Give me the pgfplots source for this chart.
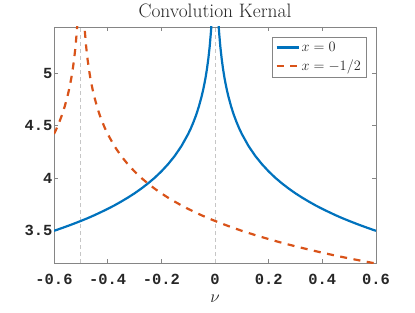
\documentclass[border=0pt]{standalone}
\usepackage{fontspec}
\usepackage{pgfplots}
\pgfplotsset{compat=1.18}
\newfontfamily\tickfont{Liberation Mono}
\definecolor{mblue}{rgb}{0,0.447,0.741}
\definecolor{morange}{rgb}{0.85,0.325,0.098}
\definecolor{axgray}{rgb}{0.52,0.52,0.52}
\definecolor{txt}{rgb}{0.15,0.15,0.15}
\begin{document}
\begin{tikzpicture}
\begin{axis}[name=ax, scale only axis, width=322bp, height=236bp,
 xmin=-0.6, xmax=0.6, ymin=3.19, ymax=5.44,
 xtick={-0.6,-0.4,-0.2,0,0.2,0.4,0.6},
 xticklabels={-0.6,-0.4,-0.2,0,0.2,0.4,0.6},
 ytick={3.5,4,4.5,5}, yticklabels={3.5,4,4.5,5},
 tick align=inside, xtick pos=both, ytick pos=both,
 major tick length=4bp,
 axis line style={axgray, line width=0.6bp},
 tick style={axgray, line width=0.6bp},
 ticklabel style={font=\tickfont\bfseries\fontsize{15.5}{16}\selectfont, text=txt},
 xticklabel style={yshift=-10bp, inner sep=1bp},
 yticklabel style={xshift=2bp},
 title={Convolution Kernal}, title style={font=\fontsize{19.5}{21}\selectfont, text=txt},
 xlabel={$\nu$}, xlabel style={font=\fontsize{16}{18}\selectfont, text=txt, inner sep=1bp, yshift=-8bp},
 legend style={at={(1,1)}, anchor=north east, xshift=-10bp, yshift=-10bp, draw=axgray, font=\fontsize{15}{17}\selectfont, text=txt, inner sep=3bp, row sep=3bp},
 legend cell align=left,
 legend image code/.code={\draw[#1] (0bp,0bp) -- (22bp,0bp);},
]
\addplot[gray!45, dash pattern=on 4bp off 3bp, line width=0.7bp, forget plot] coordinates {(-0.5,3.19) (-0.5,5.44)};
\addplot[gray!45, dash pattern=on 4bp off 3bp, line width=0.7bp, forget plot] coordinates {(0,3.19) (0,5.44)};
\addplot[mblue, line width=2.2bp] coordinates {
(-0.6,3.497) (-0.575,3.519) (-0.55,3.542) (-0.525,3.566) (-0.5,3.591) (-0.475,3.617) (-0.45,3.645) (-0.425,3.675)
(-0.4,3.706) (-0.375,3.739) (-0.35,3.775) (-0.325,3.813) (-0.3,3.854) (-0.275,3.899) (-0.25,3.948) (-0.225,4.002)
(-0.2,4.063) (-0.175,4.132) (-0.15,4.211) (-0.125,4.305) (-0.1,4.420) (-0.09,4.474) (-0.08,4.535) (-0.07,4.603)
(-0.06,4.683) (-0.05,4.777) (-0.045,4.831) (-0.04,4.892) (-0.035,4.960) (-0.03,5.040) (-0.025,5.134) (-0.02,5.249)
(-0.015,5.397) (-0.0125,5.491) (-0.01,5.606) (-0.0075,5.754) (-0.005,5.963) (-0.002,6.435)
(0.002,6.435) (0.005,5.963) (0.0075,5.754) (0.01,5.606) (0.0125,5.491) (0.015,5.397) (0.02,5.249) (0.025,5.134)
(0.03,5.040) (0.035,4.960) (0.04,4.892) (0.045,4.831) (0.05,4.777) (0.06,4.683) (0.07,4.603) (0.08,4.535)
(0.09,4.474) (0.1,4.420) (0.125,4.305) (0.15,4.211) (0.175,4.132) (0.2,4.063) (0.225,4.002) (0.25,3.948)
(0.275,3.899) (0.3,3.854) (0.325,3.813) (0.35,3.775) (0.375,3.739) (0.4,3.706) (0.425,3.675) (0.45,3.645)
(0.475,3.617) (0.5,3.591) (0.525,3.566) (0.55,3.542) (0.575,3.519) (0.6,3.497)
};
\addlegendentry{$x=0$}
\addplot[morange, line width=2.2bp, dash pattern=on 7bp off 6.5bp] coordinates {
(-0.6,4.420) (-0.59,4.474) (-0.58,4.535) (-0.57,4.603) (-0.56,4.683) (-0.55,4.777) (-0.545,4.831) (-0.54,4.892)
(-0.535,4.960) (-0.53,5.040) (-0.525,5.134) (-0.52,5.249) (-0.515,5.397) (-0.5125,5.491) (-0.51,5.606) (-0.5075,5.754)
(-0.505,5.963) (-0.502,6.435) (-0.498,6.435) (-0.495,5.963) (-0.4925,5.754) (-0.49,5.606) (-0.4875,5.491) (-0.485,5.397)
(-0.48,5.249) (-0.475,5.134) (-0.47,5.040) (-0.465,4.960) (-0.46,4.892) (-0.455,4.831) (-0.45,4.777) (-0.44,4.683)
(-0.43,4.603) (-0.42,4.535) (-0.41,4.474) (-0.4,4.420) (-0.375,4.305) (-0.35,4.211) (-0.325,4.132) (-0.3,4.063)
(-0.275,4.002) (-0.25,3.948) (-0.225,3.899) (-0.2,3.854) (-0.175,3.813) (-0.15,3.775) (-0.125,3.739) (-0.1,3.706)
(-0.075,3.675) (-0.05,3.645) (-0.025,3.617) (0,3.591) (0.05,3.542) (0.1,3.497) (0.15,3.456) (0.2,3.418)
(0.25,3.382) (0.3,3.349) (0.35,3.318) (0.4,3.288) (0.45,3.260) (0.5,3.234) (0.55,3.209) (0.6,3.185)
};
\addlegendentry{$x=-1/2$}
\end{axis}
\path ([xshift=-54bp,yshift=-49bp]ax.south west) rectangle ([xshift=39bp,yshift=27bp]ax.north east);
\end{tikzpicture}
\end{document}
